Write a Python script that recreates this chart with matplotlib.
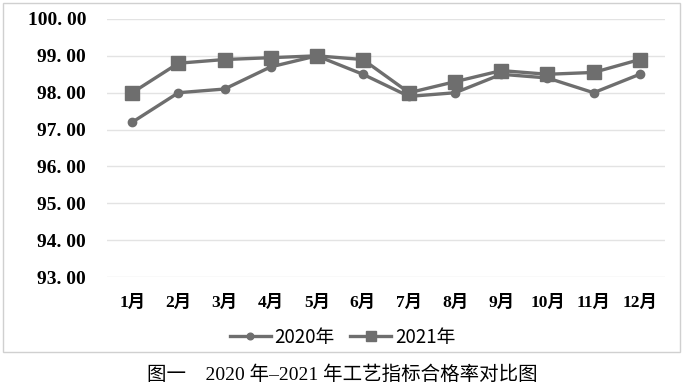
import matplotlib
matplotlib.use("Agg")
import matplotlib.pyplot as plt
from matplotlib.patches import Rectangle

months = ["1月", "2月", "3月", "4月", "5月", "6月", "7月", "8月", "9月", "10月", "11月", "12月"]
y2020 = [97.2, 98.0, 98.1, 98.7, 99.0, 98.5, 97.9, 98.0, 98.5, 98.4, 98.0, 98.5]
y2021 = [98.0, 98.8, 98.9, 98.95, 99.0, 98.9, 98.0, 98.3, 98.6, 98.5, 98.55, 98.9]
yticks = [93, 94, 95, 96, 97, 98, 99, 100]
series_names = ["2020年", "2021年"]
caption = "图一　2020 年–2021 年工艺指标合格率对比图"

fig = plt.figure(figsize=(6.85, 3.87), dpi=100)
fig.patches.append(Rectangle((3/685, 1-352/387), 677/685, 349/387, transform=fig.transFigure,
                             fill=False, edgecolor="#d0d0d0", linewidth=1.0))
ax = fig.add_axes([0.156, 0.284, 0.815, 0.667])

col = "#6e6e6e"
x = list(range(len(months)))
ax.plot(x, y2020, color=col, lw=2.4, marker="o", ms=6, label=series_names[0])
ax.plot(x, y2021, color=col, lw=2.4, marker="s", ms=9.5, label=series_names[1])

ax.set_ylim(93, 100)
ax.set_xlim(-0.55, 11.55)
ax.set_yticks(yticks)
ax.set_yticklabels([f"{v}. 00" for v in yticks],
                   fontdict=dict(family=["Liberation Serif", "Noto Sans CJK SC"], weight="bold", size=14))
ax.set_xticks(x)
ax.set_xticklabels(months, fontdict=dict(family=["Liberation Serif", "Noto Sans CJK SC"], weight="bold", size=12.5))
ax.grid(axis="y", color="#e3e3e3", lw=1)
ax.set_axisbelow(True)
for s in ax.spines.values():
    s.set_visible(False)
ax.tick_params(length=0)
ax.tick_params(axis="y", pad=15)
ax.tick_params(axis="x", pad=13)

leg = fig.legend(loc="center", bbox_to_anchor=(0.5, 1-337/387), ncol=2, frameon=False,
                 prop=dict(family=["Noto Sans CJK SC", "DejaVu Sans"], size=13.5),
                 handlelength=2.2, columnspacing=0.8, handletextpad=0.2, markerscale=0.8)

fig.text(0.5, 1-375/387, caption, ha="center", va="center",
         family=["Liberation Serif", "Noto Sans CJK SC"], size=14)

fig.savefig("out.png", dpi=100)
